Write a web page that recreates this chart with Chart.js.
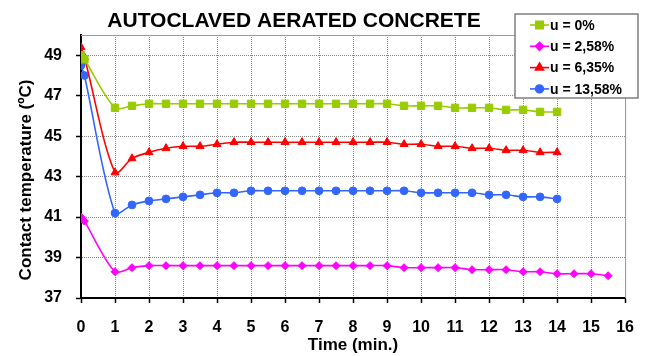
<!DOCTYPE html>
<html>
<head>
<meta charset="utf-8">
<title>Autoclaved aerated concrete – contact temperature</title>
<script src="https://cdn.jsdelivr.net/npm/chart.js@4/dist/chart.umd.min.js"></script>
<style>
  html, body { margin: 0; padding: 0; background: #fff; }
  #wrap { position: relative; width: 649px; height: 356px; }
</style>
</head>
<body>
<div id="wrap"><canvas id="chart"></canvas></div>
<script>
// measurement times (min)
const timeMin = [0, 0.1, 1, 1.5, 2, 2.5, 3, 3.5, 4, 4.5, 5, 5.5, 6, 6.5, 7, 7.5,
  8, 8.5, 9, 9.5, 10, 10.5, 11, 11.5, 12, 12.5, 13, 13.5, 14, 14.5, 15, 15.5];

// contact temperature (ºC) for each moisture content
const temp0 = [49.0, 48.8, 46.4, 46.5, 46.6, 46.6, 46.6, 46.6, 46.6, 46.6, 46.6, 46.6,
  46.6, 46.6, 46.6, 46.6, 46.6, 46.6, 46.6, 46.5, 46.5, 46.5, 46.4, 46.4, 46.4, 46.3,
  46.3, 46.2, 46.2];
const temp258 = [41.0, 40.8, 38.3, 38.5, 38.6, 38.6, 38.6, 38.6, 38.6, 38.6, 38.6, 38.6,
  38.6, 38.6, 38.6, 38.6, 38.6, 38.6, 38.6, 38.5, 38.5, 38.5, 38.5, 38.4, 38.4, 38.4,
  38.3, 38.3, 38.2, 38.2, 38.2, 38.1];
const temp635 = [49.4, 48.9, 43.2, 43.9, 44.2, 44.4, 44.5, 44.5, 44.6, 44.7, 44.7, 44.7,
  44.7, 44.7, 44.7, 44.7, 44.7, 44.7, 44.7, 44.6, 44.6, 44.5, 44.5, 44.4, 44.4, 44.3,
  44.3, 44.2, 44.2];
const temp1358 = [48.5, 48.0, 41.2, 41.6, 41.8, 41.9, 42.0, 42.1, 42.2, 42.2, 42.3, 42.3,
  42.3, 42.3, 42.3, 42.3, 42.3, 42.3, 42.3, 42.3, 42.2, 42.2, 42.2, 42.2, 42.1, 42.1,
  42.0, 42.0, 41.9];

const seriesLabels = ['u = 0%', 'u = 2,58%', 'u = 6,35%', 'u = 13,58%'];
const yTicks = [37, 39, 41, 43, 45, 47, 49];

const chartTitle = 'AUTOCLAVED AERATED CONCRETE';
const xTitle = 'Time (min.)';
const yTitle = 'Contact temperature (ºC)';

const FONT = '"Liberation Sans", Arial, sans-serif';

function toPoints(values) {
  return values.map((v, i) => ({ x: timeMin[i], y: v }));
}

function series(label, values, color, style, radius) {
  return {
    label,
    data: toPoints(values),
    borderColor: color,
    backgroundColor: color,
    borderWidth: 1.6,
    pointStyle: style,
    pointRadius: radius,
    pointBorderWidth: 1,
    tension: 0.3
  };
}

// frame, title, y-axis title and the boxed legend
const decor = {
  id: 'decor',
  beforeDatasetsDraw(chart) {
    const { ctx, chartArea: a } = chart;
    ctx.save();
    ctx.strokeStyle = '#9a9a9a';
    ctx.lineWidth = 1;
    ctx.beginPath();
    ctx.moveTo(a.left, a.top + 0.5);
    ctx.lineTo(a.right + 0.5, a.top + 0.5);
    ctx.lineTo(a.right + 0.5, a.bottom);
    ctx.stroke();
    ctx.restore();
  },
  afterDraw(chart) {
    const ctx = chart.ctx;
    ctx.save();
    ctx.fillStyle = '#000';
    ctx.textAlign = 'center';
    ctx.textBaseline = 'middle';
    ctx.font = 'bold 21px ' + FONT;
    ctx.fillText(chartTitle, 294, 21);

    ctx.save();
    ctx.translate(26, 180);
    ctx.rotate(-Math.PI / 2);
    ctx.font = 'bold 17px ' + FONT;
    ctx.fillText(yTitle, 0, 0);
    ctx.restore();

    // legend box
    ctx.fillStyle = '#fff';
    ctx.fillRect(515, 14, 123, 84);
    ctx.strokeStyle = '#7f7f7f';
    ctx.lineWidth = 1.5;
    ctx.strokeRect(515, 14, 123, 84);

    ctx.textAlign = 'left';
    ctx.font = 'bold 14px ' + FONT;
    chart.data.datasets.forEach((ds, i) => {
      const y = 25 + i * 21.3;
      ctx.strokeStyle = ds.borderColor;
      ctx.lineWidth = 1.6;
      ctx.beginPath();
      ctx.moveTo(530, y);
      ctx.lineTo(549, y);
      ctx.stroke();
      ctx.fillStyle = ds.backgroundColor;
      Chart.helpers.drawPoint(ctx, {
        pointStyle: ds.pointStyle,
        radius: ds.pointRadius,
        borderWidth: 1,
        rotation: 0
      }, 539.5, y);
      ctx.fillStyle = '#000';
      ctx.fillText(ds.label, 550, y + 1);
    });
    ctx.restore();
  }
};

const gridStyle = {
  color: '#858585',
  lineWidth: 1,
  tickColor: '#000',
  tickLength: 5,
  tickWidth: 1.5
};

new Chart(document.getElementById('chart'), {
  type: 'line',
  data: {
    datasets: [
      series(seriesLabels[0], temp0, '#99cc00', 'rect', 5.2),
      series(seriesLabels[1], temp258, '#ff00ff', 'rectRot', 4),
      series(seriesLabels[2], temp635, '#ff0000', 'triangle', 4.6),
      series(seriesLabels[3], temp1358, '#3366ff', 'circle', 3.9)
    ]
  },
  options: {
    responsive: true,
    maintainAspectRatio: false,
    animation: false,
    layout: { padding: { top: 35, right: 22, left: 0, bottom: 0 } },
    plugins: {
      legend: { display: false },
      title: { display: false },
      tooltip: { enabled: false }
    },
    scales: {
      x: {
        type: 'linear',
        min: 0,
        max: 16,
        afterFit: s => { s.height = 58; },
        ticks: {
          stepSize: 1,
          color: '#000',
          padding: 15,
          font: { family: FONT, size: 16, weight: 'bold' }
        },
        grid: gridStyle,
        border: { display: true, color: '#000', width: 2, dash: [1, 1] },
        title: {
          display: true,
          text: xTitle,
          color: '#000',
          padding: { top: 0, bottom: 0 },
          font: { family: FONT, size: 17, weight: 'bold' }
        }
      },
      y: {
        min: 37,
        max: 50,
        afterFit: s => { s.width = 81; },
        afterBuildTicks: s => { s.ticks = yTicks.map(v => ({ value: v })); },
        ticks: {
          color: '#000',
          padding: 14,
          font: { family: FONT, size: 16, weight: 'bold' }
        },
        grid: gridStyle,
        border: { display: true, color: '#000', width: 2, dash: [1, 1] }
      }
    }
  },
  plugins: [decor]
});
</script>
</body>
</html>
